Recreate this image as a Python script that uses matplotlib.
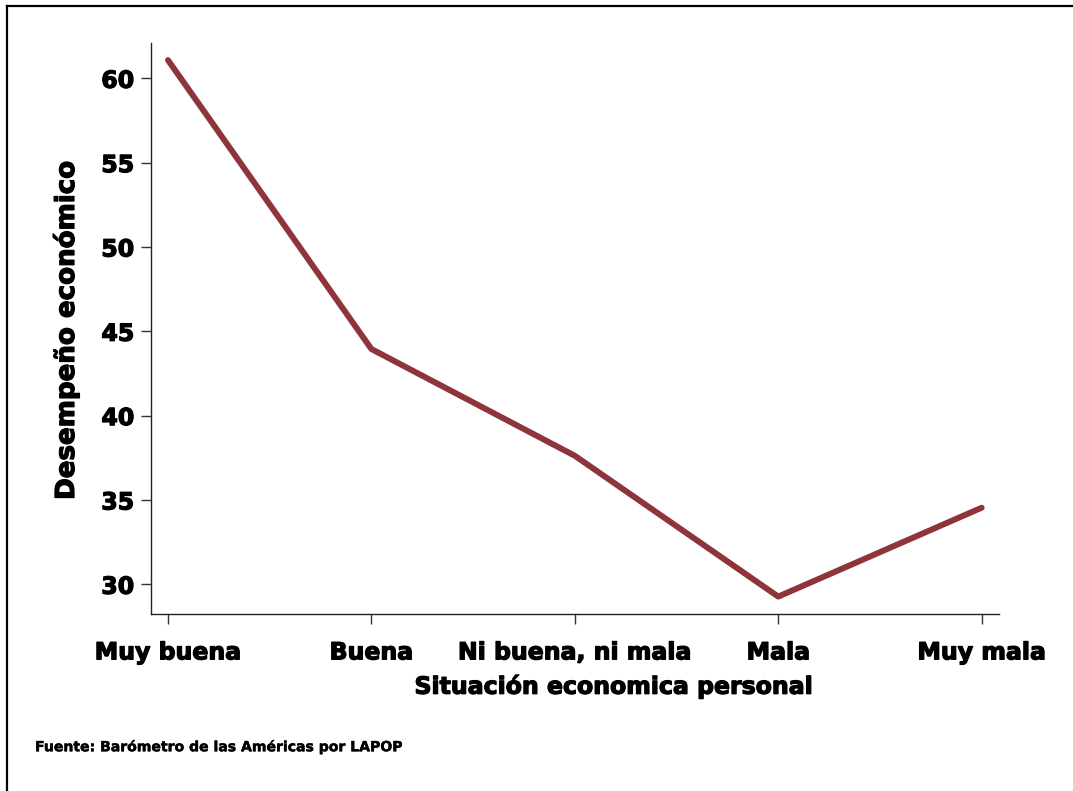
import matplotlib
matplotlib.use("Agg")
import matplotlib.pyplot as plt
import matplotlib.patheffects as pe
from matplotlib.lines import Line2D

# datos
categorias = ["Muy buena", "Buena", "Ni buena, ni mala", "Mala", "Muy mala"]
desempeno = [61.08, 43.95, 37.62, 29.27, 34.54]
yticks = [30, 35, 40, 45, 50, 55, 60]

plt.rcParams['font.family'] = ['DejaVu Sans']
plt.rcParams['font.weight'] = 'bold'

# trazo extra para que el texto se vea más grueso
grueso = [pe.withStroke(linewidth=0.9, foreground='black')]

fig = plt.figure(figsize=(10.73, 7.91), dpi=100)
ax = fig.add_axes([0.1407, 0.2238, 0.7903, 0.7222])

x = list(range(len(categorias)))
ax.plot(x, desempeno, color='#8e353c', linewidth=4.3, solid_capstyle='round')

ax.set_xlim(-0.0836, 4.085)
ax.set_ylim(28.24, 62.11)
ax.set_yticks(yticks)
ax.set_xticks(x)
ax.set_xticklabels(categorias)

for s in ['top', 'right']:
    ax.spines[s].set_visible(False)
for s in ['left', 'bottom']:
    ax.spines[s].set_linewidth(1.0)
    ax.spines[s].set_color('#222222')

ax.tick_params(axis='both', length=7, width=1.0, color='#333333', labelsize=17)
ax.tick_params(axis='y', pad=5)
ax.tick_params(axis='x', pad=12)
for lbl in ax.get_xticklabels() + ax.get_yticklabels():
    lbl.set_fontweight('bold')
    lbl.set_path_effects(grueso)

fig.text(614 / 1073, 1 - 686 / 791, "Situación economica personal", ha='center', va='center',
         fontsize=17, fontweight='bold', path_effects=grueso)
fig.text(66 / 1073, 1 - 330 / 791, "Desempeño económico", ha='center', va='center',
         rotation=90, fontsize=18.8, fontweight='bold', path_effects=grueso)
fig.text(35 / 1073, 1 - 747 / 791, "Fuente: Barómetro de las Américas por LAPOP", ha='left', va='center',
         fontsize=10.1, fontweight='bold', path_effects=[pe.withStroke(linewidth=0.3, foreground='black')])

# marco exterior (solo izquierda y arriba)
fig.add_artist(Line2D([6.5 / 1073, 6.5 / 1073], [0, 1 - 6 / 791], transform=fig.transFigure,
                      color='black', linewidth=1.6))
fig.add_artist(Line2D([6.5 / 1073, 1], [1 - 6 / 791, 1 - 6 / 791], transform=fig.transFigure,
                      color='black', linewidth=1.6))

fig.savefig("out.png", dpi=100)
